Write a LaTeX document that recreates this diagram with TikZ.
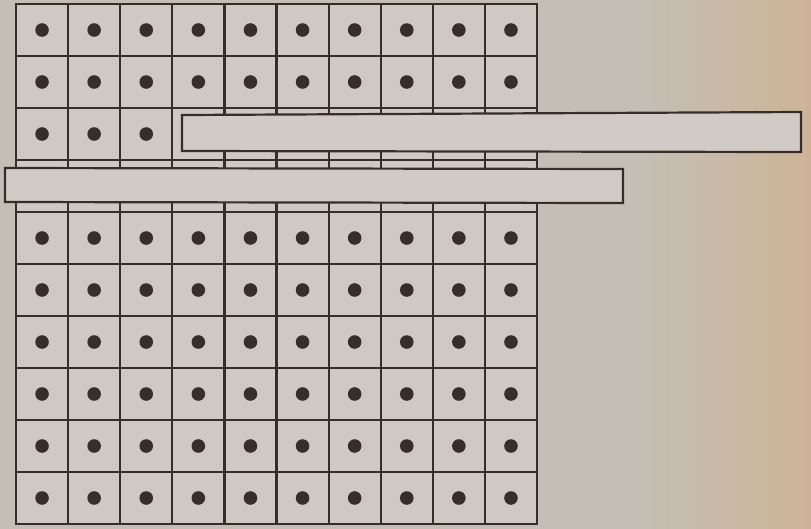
\documentclass[tikz,border=0pt]{standalone}
\definecolor{bgc}{RGB}{196,190,180}
\definecolor{bgr}{RGB}{205,180,150}
\definecolor{cellc}{RGB}{206,202,195}
\definecolor{barc}{RGB}{208,204,197}
\definecolor{ink}{RGB}{55,45,42}
\begin{document}
\begin{tikzpicture}[x=1pt,y=-1pt,line width=2.2pt,
  cell/.style={draw=ink,fill=cellc},
  pdot/.style={fill=ink},
  bar/.style={draw=ink,fill=barc,line join=miter}]
\useasboundingbox (0,0) rectangle (811,528);
\fill[bgc] (-3,-3) rectangle (814,531);
\shade[left color=bgc,right color=bgr,draw=none] (640,-3) rectangle (814,531);
\foreach \r in {0,...,9}{
  \foreach \c in {0,...,9}{
    \draw[cell] ({16+52.1*\c},{4+52*\r}) rectangle +(52.1,52);
    \fill[pdot] ({16+52.1*(\c+0.5)},{4+52*(\r+0.5)}) circle (6.8);
  }
}
% upper bar
\draw[bar] (182,115) -- (801,112) -- (801,152) -- (182,151) -- cycle;
% lower bar
\draw[bar] (5,168) -- (623,169) -- (623,203) -- (5,202) -- cycle;
\end{tikzpicture}
\end{document}
